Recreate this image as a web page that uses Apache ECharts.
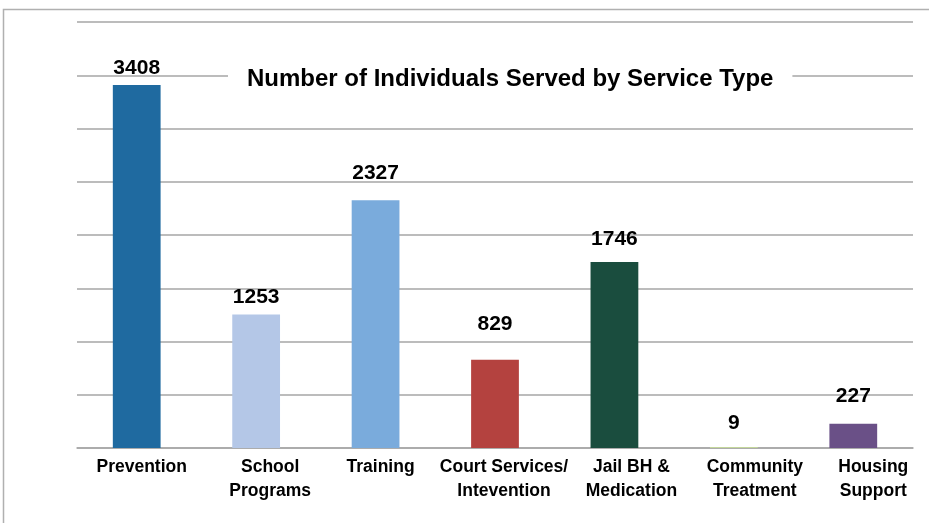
<!DOCTYPE html>
<html>
<head>
<meta charset="utf-8">
<script src="https://cdn.jsdelivr.net/npm/echarts@6/dist/echarts.min.js"></script>
<style>
  html, body { margin: 0; padding: 0; background: #fff; }
  #chart { width: 929px; height: 523px; }
</style>
</head>
<body>
<div id="chart"></div>
<script>
const categories = [
  'Prevention',
  'School\nPrograms',
  'Training',
  'Court Services/\nIntevention',
  'Jail BH &\nMedication',
  'Community\nTreatment',
  'Housing\nSupport'
];
const served = [3408, 1253, 2327, 829, 1746, 9, 227];
const barColors = ['#1f6aa0', '#b4c7e7', '#7aabdc', '#b4423f', '#1a4d3e', '#c3d69b', '#6a5087'];

// hand-placed labels in the original: nudges in px
const tickShift = [5, 14, 5, 9, 17, 21, 20];
const valueLift = [0, 1, 10, 19, 6, 7, 11];

const font = '"Liberation Sans Narrow", "Arial Narrow", "Liberation Sans", Arial, sans-serif';

const chart = echarts.init(document.getElementById('chart'));

chart.setOption({
  backgroundColor: '#fff',
  animation: false,
  title: {
    text: 'Number of Individuals Served by Service Type',
    left: 228,
    top: 61,
    padding: [4, 19, 4, 19],
    backgroundColor: '#fff',
    textStyle: {
      fontFamily: font,
      fontSize: 24,
      fontWeight: 'bold',
      color: '#000',
      lineHeight: 28
    }
  },
  graphic: [{
    type: 'rect',
    shape: { x: 3.5, y: 9.5, width: 1000, height: 600 },
    style: { fill: 'none', stroke: '#b0b0b0', lineWidth: 1.5 },
    z: -1
  }],
  grid: { left: 77, right: 16, top: 22, bottom: 75 },
  xAxis: {
    type: 'category',
    data: categories.map((c, i) => ({
      value: c,
      textStyle: { padding: [0, 0, 0, tickShift[i] * 2] }
    })),
    axisLine: { lineStyle: { color: '#a6a6a6', width: 1.5 } },
    axisTick: { show: false },
    axisLabel: {
      interval: 0,
      color: '#000',
      fontFamily: font,
      fontSize: 17.5,
      fontWeight: 'bold',
      lineHeight: 24,
      margin: 7
    }
  },
  yAxis: {
    type: 'value',
    min: 0,
    max: 4000,
    interval: 500,
    axisLine: { show: false },
    axisTick: { show: false },
    axisLabel: { show: false },
    splitLine: { lineStyle: { color: '#a6a6a6', width: 1.5 } }
  },
  series: [{
    type: 'bar',
    barWidth: '40%',
    data: served.map((v, i) => ({
      value: v,
      itemStyle: { color: barColors[i] },
      label: { offset: [0, -valueLift[i]] }
    })),
    label: {
      show: true,
      position: 'top',
      distance: 6,
      color: '#000',
      fontFamily: font,
      fontSize: 21,
      fontWeight: 'bold'
    }
  }]
});
</script>
</body>
</html>
